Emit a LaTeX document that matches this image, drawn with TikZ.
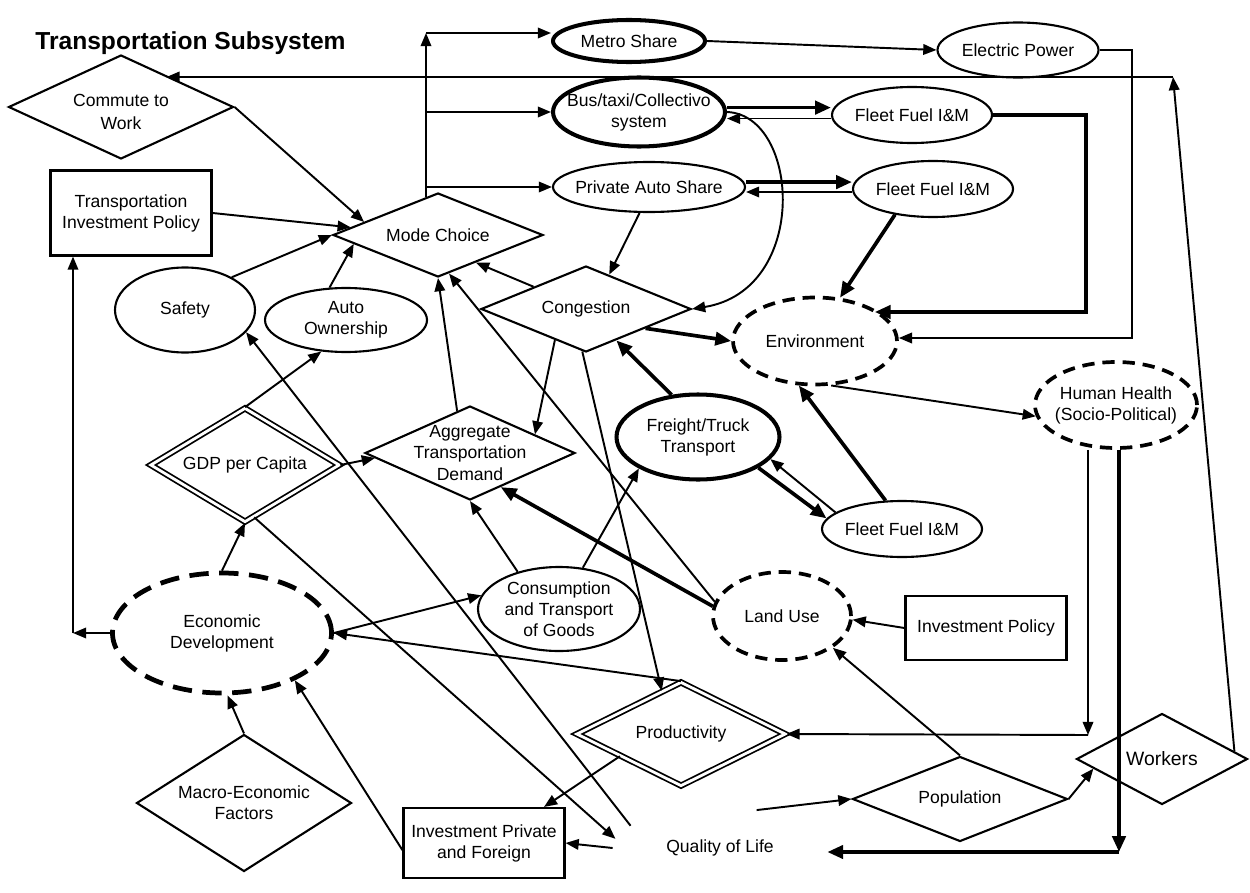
\documentclass[tikz,border=0pt]{standalone}
\usepackage{fontspec}
\setmainfont{Liberation Sans}
\usetikzlibrary{arrows.meta,shapes.geometric}
\newcommand{\nodefont}{\fontsize{10pt}{12pt}\selectfont}

\begin{document}
\begin{tikzpicture}[x=0.02cm, y=-0.02cm]
\tikzset{sz/.style 2 args={minimum width=#1*0.02cm, minimum height=#2*0.02cm}}
\tikzstyle{every node}=[inner sep=0pt, font=\nodefont, align=center]
\tikzstyle{box}=[draw, rectangle, line width=1.2pt]
\tikzstyle{dia}=[draw, diamond, line width=1.2pt]
\tikzstyle{dia2}=[draw, diamond, line width=1pt, double, double distance=1.6pt]
\tikzstyle{ell}=[draw, ellipse, line width=1.2pt]
\tikzstyle{ell2}=[draw, ellipse, line width=2.3pt]
\tikzstyle{dsh}=[draw, ellipse, line width=2.1pt, dash pattern=on 7pt off 4.5pt]
\tikzstyle{dsh2}=[draw, ellipse, line width=2.7pt, dash pattern=on 11pt off 6pt]
\tikzstyle{con}=[line width=1.1pt, -{Triangle[length=7.5pt,width=6pt]}]
\tikzstyle{thk}=[line width=2.1pt, -{Triangle[length=9pt,width=7.5pt]}]
\useasboundingbox (0,0) rectangle (1250,892);

\draw (35,43) node (title) [anchor=west, font=\fontsize{14pt}{16pt}\selectfont\bfseries] {Transportation Subsystem};

% boxes
\draw (131,213) node (tip) [box, sz={161}{85}, label={center:Transportation\\Investment Policy}] {};
\draw (986,628) node (invpol) [box, sz={161}{64}, label={center:Investment Policy}] {};
\draw (484,843) node (invpf) [box, sz={161}{70}, label={center:Investment Private\\and Foreign}] {};

% diamonds
\draw (121,107) node (commute) [dia, sz={225}{104}, label={[yshift=-0.1cm, font=\fontsize{10pt}{13.5pt}\selectfont]center:Commute to\\Work}] {};
\draw (438,235) node (mode) [dia, sz={210}{84}, label={center:Mode Choice}] {};
\draw (586,309) node (cong) [dia, sz={210}{86}, label={center:Congestion}] {};
\draw (470,453) node (atd) [dia, sz={210}{94}, label={center:Aggregate\\Transportation\\Demand}] {};
\draw (244,803) node (macro) [dia, sz={215}{137}, label={center:Macro-Economic\\Factors}] {};
\draw (960,799) node (pop) [dia, sz={215}{85}, label={center:Population}] {};
\draw (1162,759) node (workers) [dia, sz={171}{91}, label={[font=\fontsize{11pt}{13pt}\selectfont]center:Workers}] {};
\draw (245,465) node (gdp) [dia2, sz={189}{114}, label={center:GDP per Capita}] {};
\draw (681,734) node (prod) [dia2, sz={209}{104}, label={center:Productivity}] {};

% ellipses
\draw (629,41) node (metro) [ell2, sz={152}{42}, label={center:Metro Share}] {};
\draw (639,112) node (bus) [ell2, sz={172}{69}, label={center:Bus/taxi/Collectivo\\system}] {};
\draw (649,187) node (priv) [ell, sz={192}{50}, label={center:Private Auto Share}] {};
\draw (1018,50) node (elec) [ell, sz={161}{55}, label={center:Electric Power}] {};
\draw (912,115) node (fleetA) [ell, sz={160}{56}, label={center:Fleet Fuel I\&M}] {};
\draw (933,189) node (fleetB) [ell, sz={160}{56}, label={center:Fleet Fuel I\&M}] {};
\draw (902,529) node (fleetC) [ell, sz={160}{56}, label={center:Fleet Fuel I\&M}] {};
\draw (185,310) node (safety) [ell, sz={140}{85}, label={center:Safety}] {};
\draw (346,320) node (auto) [ell, sz={162}{64}, label={center:Auto\\Ownership}] {};
\draw (698,437) node (freight) [ell2, sz={163}{85}, label={center:Freight/Truck\\Transport}] {};
\draw (559,609) node (cons) [ell, sz={162}{84}, label={center:Consumption\\and Transport\\of Goods}] {};
\draw (815,341) node (env) [dsh, sz={164}{87}, label={center:Environment}] {};
\draw (1116,405) node (health) [dsh, sz={162}{86}, label={center:Human Health\\(Socio-Political)}] {};
\draw (782,616) node (land) [dsh, sz={138}{88}, label={center:Land Use}] {};
\draw (222,633) node (econ) [dsh2, sz={219}{120}, label={center:Economic\\Development}] {};
\draw (720,848) node (qol) [ellipse, sz={214}{80}, label={center:Quality of Life}] {};

% corners
\coordinate (wtop) at (1173,77);
\coordinate (eleft) at (73,633);
\coordinate (mtop) at (426,33);
\coordinate (ecor) at (1132,338);
\coordinate (fcor) at (1086,312);
\coordinate (hcor) at (1088,735);
\coordinate (qcor) at (1119,852);

% links
\draw[con] (workers.6) -- (wtop);
\draw[con] (wtop) -- (commute.35 |- wtop);
\draw[con] (commute.east) -- (mode.170);
\draw[con] (tip.east) -- (mode.175);
\draw[con] (safety.35) -- (mode.west);
\draw[con] (auto.117) -- (mode.186);
\draw[con] (econ.west) -- (eleft);
\draw[con] (eleft) -- (eleft |- tip.south);
\draw[con] (mtop |- mode.107) -- (mtop);
\draw[con] (mtop) -- (mtop -| metro.west);
\draw[con] (mtop |- bus.west) -- (bus.west);
\draw[con] (mtop |- priv.west) -- (priv.west);
\draw[con] (metro.east) -- (elec.west);
\draw[con] (elec.east) -| (ecor) -- (ecor -| env.east);
\draw[thk] (fleetA.east) -| (fcor) -- (fcor -| env.28);
\draw[thk] (fleetB.214) -- (env.60);
\draw[thk] ([yshift=2.5pt]bus.east) -- ([yshift=2.5pt]bus.east -| fleetA.west);
\draw[con] ([yshift=-2pt]fleetA.west) -- ([yshift=-2pt]fleetA.west -| bus.east);
\draw[thk] ([yshift=2.8pt]priv.east) -- ([yshift=2.8pt]priv.east -| fleetB.west);
\draw[con] ([yshift=-1.7pt]fleetB.west) -- ([yshift=-1.7pt]fleetB.west -| priv.east);
\draw[con] (priv.250) -- (cong.56);
\draw[con] (bus.east) .. controls (800,115) and (810,290) .. (cong.east);
\draw[con] (cong.157) -- (mode.-36);
\draw[thk] (cong.-18) -- (env.west);
\draw[con] (cong.225) -- (atd.16);
\draw[con] (cong.265) -- (prod.114);
\draw[thk] (freight.122) -- (cong.-46);
\draw[thk] (freight.-27) -- (fleetC.172);
\draw[con] (fleetC.166) -- (freight.-17);
\draw[thk] (fleetC.120) -- (env.250);
\draw[con] (env.-70) -- (health.188);
\draw[con] (hcor |- health.south) -- (hcor);
\draw[con] (hcor) -- (prod.east);
\draw[thk] (qcor |- health.south) -- (qcor);
\draw[thk] (qcor) -- (qcor -| qol.east);
\draw[con] (pop.east) -- (workers.188);
\draw[con] (pop.north) -- (land.-32);
\draw[con] (qol.46) -- (pop.west);
\draw[con] (invpol.west) -- (land.-3);
\draw[thk] (land.172) -- (atd.-48);
\draw[con] (land.168) -- (mode.-74);
\draw[con] (atd.107) -- (mode.south);
\draw[con] (gdp.north) -- (auto.232);
\draw[con] (gdp.east) -- (atd.183);
\draw[con] (econ.north) -- (gdp.south);
\draw[con] (macro.north) -- (econ.-85);
\draw[con] (invpf.185) -- (econ.-33);
\draw[con] (prod.north) -- (econ.east);
\draw[con] (econ.east) -- (cons.170);
\draw[con] (cons.138) -- (atd.south);
\draw[con] (cons.60) -- (freight.208);
\draw[con] (gdp.-80) -- (qol.175);
\draw[con] (qol.166) -- (safety.-20);
\draw[con] (prod.200) -- (invpf.31);
\draw[con] (qol.west) -- (invpf.east);
\end{tikzpicture}
\end{document}
